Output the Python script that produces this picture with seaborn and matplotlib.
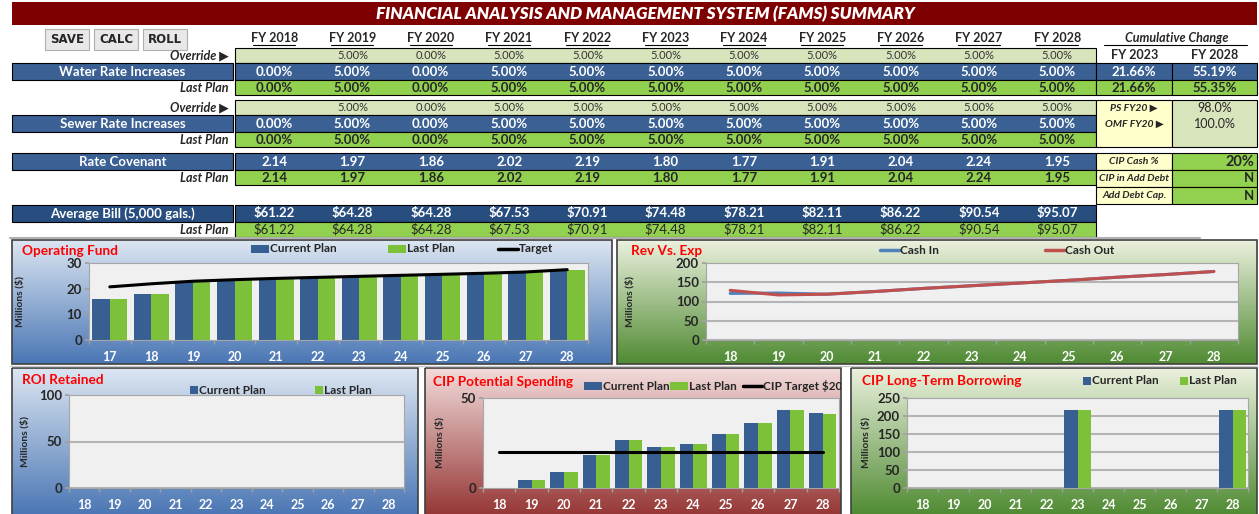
import numpy as np
import pandas as pd
import matplotlib
matplotlib.use('Agg')
import matplotlib.pyplot as plt
import matplotlib.colors as mcolors
from matplotlib.patches import Rectangle
import seaborn as sns

sns.set_theme(style='white')
plt.rcParams['font.family'] = ['Lato', 'DejaVu Sans']

W, H = 1259, 514

# ---------------- table values ----------------
fy_labels = ['FY 2018', 'FY 2019', 'FY 2020', 'FY 2021', 'FY 2022', 'FY 2023',
             'FY 2024', 'FY 2025', 'FY 2026', 'FY 2027', 'FY 2028']
water_override = [None, 5.0, 0.0, 5.0, 5.0, 5.0, 5.0, 5.0, 5.0, 5.0, 5.0]
water_current = [0.0, 5.0, 0.0, 5.0, 5.0, 5.0, 5.0, 5.0, 5.0, 5.0, 5.0]
water_last = [0.0, 5.0, 0.0, 5.0, 5.0, 5.0, 5.0, 5.0, 5.0, 5.0, 5.0]
sewer_override = [None, 5.0, 0.0, 5.0, 5.0, 5.0, 5.0, 5.0, 5.0, 5.0, 5.0]
sewer_current = [0.0, 5.0, 0.0, 5.0, 5.0, 5.0, 5.0, 5.0, 5.0, 5.0, 5.0]
sewer_last = [0.0, 5.0, 0.0, 5.0, 5.0, 5.0, 5.0, 5.0, 5.0, 5.0, 5.0]
covenant_current = [2.14, 1.97, 1.86, 2.02, 2.19, 1.80, 1.77, 1.91, 2.04, 2.24, 1.95]
covenant_last = [2.14, 1.97, 1.86, 2.02, 2.19, 1.80, 1.77, 1.91, 2.04, 2.24, 1.95]
bill_current = [61.22, 64.28, 64.28, 67.53, 70.91, 74.48, 78.21, 82.11, 86.22, 90.54, 95.07]
bill_last = [61.22, 64.28, 64.28, 67.53, 70.91, 74.48, 78.21, 82.11, 86.22, 90.54, 95.07]
cum_labels = ['FY 2023', 'FY 2028']
cum_current = [21.66, 55.19]
cum_last = [21.66, 55.35]
side_labels = ['PS FY20 \u25B6', 'OMF FY20 \u25B6']
side_values = [98.0, 100.0]
flag_labels = ['CIP Cash %', 'CIP in Add Debt', 'Add Debt Cap.']
flag_values = ['20%', 'N', 'N']

# ---------------- chart values ----------------
op_years = ['17', '18', '19', '20', '21', '22', '23', '24', '25', '26', '27', '28']
op_current = [16.0, 18.0, 22.6, 23.2, 23.8, 24.3, 24.7, 25.1, 25.5, 25.8, 26.2, 27.0]
op_last = [16.0, 18.0, 22.8, 23.3, 23.9, 24.3, 24.8, 25.2, 25.6, 25.9, 26.3, 27.2]
op_target = [20.7, 21.9, 22.9, 23.5, 24.0, 24.4, 24.8, 25.2, 25.6, 26.0, 26.5, 27.4]

years = ['18', '19', '20', '21', '22', '23', '24', '25', '26', '27', '28']
cash_in = [121, 122, 119, 126, 134, 141, 148, 155, 163, 170, 178]
cash_out = [129, 117, 119, 126, 134, 141, 148, 155, 163, 170, 178]
roi_current = [0, 0, 0, 0, 0, 0, 0, 0, 0, 0, 0]
roi_last = [0, 0, 0, 0, 0, 0, 0, 0, 0, 0, 0]
cip_current = [0, 4.6, 9.1, 18.5, 26.9, 23.0, 24.6, 30.2, 36.3, 43.5, 41.9]
cip_last = [0, 4.6, 9.1, 18.5, 26.9, 23.0, 24.6, 30.2, 36.3, 43.5, 41.3]
cip_target = [20, 20, 20, 20, 20, 20, 20, 20, 20, 20, 20]
ltb_current = [0, 0, 0, 0, 0, 217, 0, 0, 0, 0, 217]
ltb_last = [0, 0, 0, 0, 0, 217, 0, 0, 0, 0, 217]

BLUE = '#375F91'
GREEN = '#7DC13A'
ROW_BLUE = '#3A6094'
BILL_BLUE = '#284E80'
ROW_GREEN = '#92D050'
OVR = '#D8E4BC'
YEL = '#FFFFCC'

fig = plt.figure(figsize=(W / 100, H / 100), dpi=100)
bg = fig.add_axes([0, 0, 1, 1], zorder=0)
bg.set_xlim(0, W)
bg.set_ylim(H, 0)
bg.axis('off')


def px(x0, y0, x1, y1):
    return [x0 / W, 1 - y1 / H, (x1 - x0) / W, (y1 - y0) / H]


def cell(x0, y0, x1, y1, color, edge='black', lw=0.8):
    bg.add_patch(Rectangle((x0, y0), x1 - x0, y1 - y0, facecolor=color,
                           edgecolor=edge, lw=lw, zorder=1))


def txt(x, y, s, **kw):
    kw.setdefault('ha', 'center')
    kw.setdefault('va', 'center')
    kw.setdefault('fontsize', 9.5)
    return bg.text(x, y, s, zorder=3, **kw)


# ---------------- title bar ----------------
cell(12, 2, 1257, 25, '#7F0000', edge='none')
txt(645, 14, 'FINANCIAL ANALYSIS AND MANAGEMENT SYSTEM (FAMS) SUMMARY',
    color='white', fontsize=12.3, fontweight='heavy', style='italic')

# buttons
for bx, name in zip([45, 94, 143], ['SAVE', 'CALC', 'ROLL']):
    cell(bx, 29, bx + 44, 50, '#E8E8E8', edge='#B0B0B0')
    txt(bx + 22, 39.5, name, fontsize=8.5, fontweight='bold', family='DejaVu Sans')

# ---------------- table ----------------
LX0, LX1 = 12, 233
DX0, CW = 235, 78.3
DX1 = DX0 + CW * 11
C1, C2, C3 = DX1, 1172, 1257
col_x = [DX0 + CW * (i + 0.5) for i in range(11)]

for x, s in zip(col_x, fy_labels):
    txt(x, 38, s, fontsize=9, fontweight='bold')
    bg.plot([x - 21, x + 21], [45, 45], color='black', lw=0.8, zorder=3)
txt((C1 + C3) / 2, 38, 'Cumulative Change', fontsize=9, fontweight='bold', style='italic')
bg.plot([C1 + 8, C3 - 10], [45, 45], color='black', lw=0.8, zorder=3)
for x, s in zip([(C1 + C2) / 2, (C2 + C3) / 2], cum_labels):
    txt(x, 55, s, fontsize=9, fontweight='bold')


def pct(v):
    return '' if v is None else f'{v:.2f}%'


def block(y0, name, override, current, last, fmt, name_color=ROW_BLUE, last_bold=True):
    # override row, current plan row and last plan row
    if override is not None:
        cell(DX0, y0, DX1, y0 + 15, OVR)
        txt(LX1 - 4, y0 + 7.5, 'Override \u25B6', ha='right', fontsize=9,
            fontweight='bold', style='italic')
        for x, v in zip(col_x, override):
            txt(x, y0 + 7.5, fmt(v), fontsize=8, color='#333333')
        y0 += 15
    cell(LX0, y0, LX1, y0 + 17, name_color)
    cell(DX0, y0, DX1, y0 + 17, name_color)
    txt((LX0 + LX1) / 2, y0 + 8.5, name, color='white', fontweight='bold')
    for x, v in zip(col_x, current):
        txt(x, y0 + 8.5, fmt(v), color='white', fontweight='bold')
    cell(DX0, y0 + 17, DX1, y0 + 32, ROW_GREEN)
    txt(LX1 - 4, y0 + 24.5, 'Last Plan', ha='right', fontsize=9,
        fontweight='bold', style='italic')
    for x, v in zip(col_x, last):
        txt(x, y0 + 24.5, fmt(v), fontweight='bold' if last_bold else 'normal')
    return y0


wy = block(48, 'Water Rate Increases', water_override, water_current, water_last, pct)
# cumulative change cells
for (xa, xb), cv, lv in zip([(C1, C2), (C2, C3)], cum_current, cum_last):
    cell(xa, wy, xb, wy + 17, ROW_BLUE)
    txt((xa + xb) / 2, wy + 8.5, f'{cv:.2f}%', color='white', fontweight='bold')
    cell(xa, wy + 17, xb, wy + 32, ROW_GREEN)
    txt((xa + xb) / 2, wy + 24.5, f'{lv:.2f}%', fontweight='bold')

block(100, 'Sewer Rate Increases', sewer_override, sewer_current, sewer_last, pct)
cell(C1, 100, C2, 147, YEL)
cell(C2, 100, C3, 147, OVR)
for i, (lab, v) in enumerate(zip(side_labels, side_values)):
    txt(C1 + 38, 108 + 16 * i, lab, fontsize=7.5, fontweight='bold', style='italic')
    txt((C2 + C3) / 2, 108 + 16 * i, f'{v:.1f}%', fontsize=9)

block(153, 'Rate Covenant', None, covenant_current, covenant_last, lambda v: f'{v:.2f}')
for i, (lab, v) in enumerate(zip(flag_labels, flag_values)):
    y0 = 153 + 17 * i
    cell(C1, y0, C2, y0 + 17, YEL)
    cell(C2, y0, C3, y0 + 17, ROW_GREEN)
    txt((C1 + C2) / 2, y0 + 8.5, lab, fontsize=7.5, fontweight='bold', style='italic')
    txt(C3 - 3, y0 + 8.5, v, ha='right', fontsize=10.5 if i == 0 else 9.5, fontweight='bold')

block(205, 'Average Bill (5,000 gals.)', None, bill_current, bill_last,
      lambda v: f'${v:.2f}', name_color=BILL_BLUE, last_bold=False)
bg.plot([10, 1200], [238, 238], color='#B0B0B0', lw=1.5, zorder=1)
bg.plot([10, 1257], [366, 366], color='#C8C8C8', lw=1, zorder=1)


# ---------------- chart panels ----------------
def panel(x0, y0, x1, y1, top, bottom):
    c0 = np.array(mcolors.to_rgb(top))
    c1 = np.array(mcolors.to_rgb(bottom))
    t = np.linspace(0, 1, 200)[:, None, None]
    grad = c0 * (1 - t) + c1 * t
    bg.imshow(grad, extent=[x0, x1, y1, y0], aspect='auto', zorder=0.5)
    frame = Rectangle((x0, y0), x1 - x0, y1 - y0, facecolor='none',
                      edgecolor='#404040', lw=1.2, zorder=0.6)
    bg.add_patch(frame)
    return frame


def legend_item(x, y, label, color, kind='bar', w=18, clip=None):
    if kind == 'bar':
        bg.add_patch(Rectangle((x, y - 4), w, 8, facecolor=color, edgecolor='none', zorder=2))
    else:
        bg.plot([x, x + w], [y, y], color=color, lw=2.5, zorder=2)
    t = txt(x + w + 1, y, label, ha='left', fontsize=8.5, fontweight='bold')
    if clip is not None:
        t.set_clip_on(True)
        t.set_clip_path(clip)


def panel_title(x, y, s):
    txt(x, y, s, ha='left', color='#FF0000', fontsize=9.8, fontweight='bold')


def finish(ax, labels, ymax, ystep, grid, label_x, x0, x1, pad):
    n = len(labels)
    ax.set_xlim(-0.5, n - 0.5)
    ax.set_ylim(0, ymax)
    yt = np.arange(0, ymax + 1, ystep)
    ax.set_yticks(yt, [str(v) for v in yt], fontweight='bold', fontsize=9.5)
    ax.set_xticks(range(n), labels, color='white', fontweight='bold', fontsize=9)
    ax.set_xticks(np.arange(-0.5, n), minor=True)
    ax.tick_params(axis='x', which='major', length=0, pad=pad)
    ax.tick_params(axis='x', which='minor', length=3, color='#A0A0A0', direction='out', bottom=True)
    ax.tick_params(axis='y', length=3, color='#A0A0A0', direction='out', left=True, pad=2)
    ax.set_xlabel('')
    ax.set_ylabel('Millions ($)', fontsize=7.5, fontweight='bold')
    ax.yaxis.label.set_va('center')
    ax.yaxis.set_label_coords((label_x - x0) / (x1 - x0), 0.5)
    if grid:
        ax.yaxis.grid(True, color='#B4B4B4', lw=1.5)
        ax.set_axisbelow(True)
    for s in ax.spines.values():
        s.set_color('#A6A6A6')
        s.set_linewidth(0.8)


def bar_frame(labels, cur, last):
    return pd.DataFrame({
        'year': labels * 2,
        'value': cur + last,
        'plan': ['Current Plan'] * len(labels) + ['Last Plan'] * len(labels),
    })


# Operating Fund
panel(12, 240, 612, 364, '#DCE6F2', '#4A76B4')
ax1 = fig.add_axes(px(89, 263, 588, 340), zorder=2)
ax1.set_facecolor('#F0F0F0')
sns.barplot(data=bar_frame(op_years, op_current, op_last), x='year', y='value', hue='plan',
            palette=[BLUE, GREEN], saturation=1, width=0.84, linewidth=0, legend=False, ax=ax1)
ax1.plot(range(len(op_years)), op_target, color='black', lw=2.2)
finish(ax1, op_years, 30, 10, False, 20, 89, 588, 8)
panel_title(22, 251, 'Operating Fund')
legend_item(251, 249, 'Current Plan', BLUE)
legend_item(388, 249, 'Last Plan', GREEN)
legend_item(498, 249, 'Target', 'black', kind='line', w=20)

# Rev Vs. Exp
panel(617, 240, 1257, 364, '#EBF1DE', '#4F8A32')
ax2 = fig.add_axes(px(706, 263, 1238, 340), zorder=2)
ax2.set_facecolor('#F0F0F0')
rev = pd.DataFrame({'idx': list(range(len(years))) * 2, 'value': cash_in + cash_out,
                    'series': ['Cash In'] * len(years) + ['Cash Out'] * len(years)})
sns.lineplot(data=rev, x='idx', y='value', hue='series', palette=['#4F81BD', '#C0504D'],
             lw=2.2, legend=False, ax=ax2)
finish(ax2, years, 200, 50, True, 630, 706, 1238, 8)
panel_title(631, 251, 'Rev Vs. Exp')
legend_item(880, 250, 'Cash In', '#4F81BD', kind='line', w=19)
legend_item(1045, 250, 'Cash Out', '#C0504D', kind='line', w=19)

# ROI Retained
panel(12, 368, 418, 516, '#DCE6F2', '#4A76B4')
ax3 = fig.add_axes(px(69, 395, 404, 488), zorder=2)
ax3.set_facecolor('#F0F0F0')
sns.barplot(data=bar_frame(years, roi_current, roi_last), x='year', y='value', hue='plan',
            palette=[BLUE, GREEN], saturation=1, width=0.84, linewidth=0, legend=False, ax=ax3)
finish(ax3, years, 100, 50, True, 25, 69, 404, 8)
panel_title(22, 380, 'ROI Retained')
legend_item(190, 390, 'Current Plan', BLUE, w=8)
legend_item(315, 390, 'Last Plan', GREEN, w=8)

# CIP Potential Spending
cip_frame = panel(425, 368, 841, 516, '#F2DCDB', '#953634')
ax4 = fig.add_axes(px(483, 398, 839, 488), zorder=2)
ax4.set_facecolor('#F0F0F0')
sns.barplot(data=bar_frame(years, cip_current, cip_last), x='year', y='value', hue='plan',
            palette=[BLUE, GREEN], saturation=1, width=0.84, linewidth=0, legend=False, ax=ax4)
ax4.plot(range(len(years)), cip_target, color='black', lw=2.2)
finish(ax4, years, 50, 50, False, 440, 483, 839, 8)
panel_title(433, 382, 'CIP Potential Spending')
legend_item(584, 386, 'Current Plan', BLUE)
legend_item(670, 386, 'Last Plan', GREEN)
legend_item(743, 386, 'CIP Target $20M', 'black', kind='line', w=19, clip=cip_frame)

# CIP Long-Term Borrowing
panel(851, 368, 1257, 516, '#EBF1DE', '#4F8A32')
ax5 = fig.add_axes(px(907, 398, 1248, 488), zorder=2)
ax5.set_facecolor('#F0F0F0')
sns.barplot(data=bar_frame(years, ltb_current, ltb_last), x='year', y='value', hue='plan',
            palette=[BLUE, GREEN], saturation=1, width=0.84, linewidth=0, legend=False, ax=ax5)
finish(ax5, years, 250, 50, True, 866, 907, 1248, 8)
panel_title(862, 381, 'CIP Long-Term Borrowing')
legend_item(1083, 381, 'Current Plan', BLUE, w=8)
legend_item(1180, 381, 'Last Plan', GREEN, w=8)

bg.set_xlim(0, W)
bg.set_ylim(H, 0)
fig.savefig('out.png', dpi=100)
